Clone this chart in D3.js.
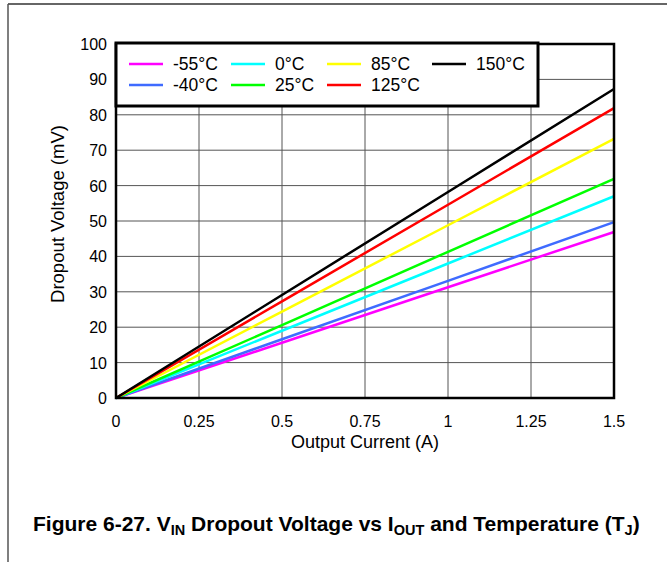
<!DOCTYPE html>
<html>
<head>
<meta charset="utf-8">
<script src="https://cdn.jsdelivr.net/npm/d3@7"></script>
<style>
  body { margin: 0; background: #fff; }
  text { font-family: "Liberation Sans", Arial, sans-serif; }
</style>
</head>
<body>
<script>
// data
var currents = [0, 0.5, 1.0, 1.5];
var seriesNames = ['-55°C', '-40°C', '0°C', '25°C', '85°C', '125°C', '150°C'];
var seriesColors = ['#ff00ff', '#3f6bff', '#00ffff', '#00ff00', '#ffff00', '#ff0000', '#000000'];
var vMinus55 = [0, 15.6, 31.3, 46.9];
var vMinus40 = [0, 16.6, 33.1, 49.7];
var v0 = [0, 19.0, 38.0, 57.0];
var v25 = [0, 20.6, 41.3, 61.9];
var v85 = [0, 24.4, 48.8, 73.2];
var v125 = [0, 27.3, 54.6, 81.9];
var v150 = [0, 29.1, 58.2, 87.3];
var seriesValues = [vMinus55, vMinus40, v0, v25, v85, v125, v150];
var xTicks = [0, 0.25, 0.5, 0.75, 1, 1.25, 1.5];
var xTickLabels = ['0', '0.25', '0.5', '0.75', '1', '1.25', '1.5'];
var yTicks = [0, 10, 20, 30, 40, 50, 60, 70, 80, 90, 100];

var W = 667, H = 562;
var plot = {left: 116, right: 614, top: 44, bottom: 398};

var svg = d3.select('body')
    .append('svg')
    .attr('width', W)
    .attr('height', H);

//page frame
svg.append('line')
    .attr('x1', 8).attr('y1', 4).attr('x2', W).attr('y2', 4)
    .style('stroke', '#333').style('stroke-width', 1.5);
svg.append('line')
    .attr('x1', 8).attr('y1', 4).attr('x2', 8).attr('y2', H)
    .style('stroke', '#555').style('stroke-width', 1.5);

var x = d3.scaleLinear().domain([0, 1.5]).range([plot.left, plot.right]);
var y = d3.scaleLinear().domain([0, 100]).range([plot.bottom, plot.top]);

//grid
svg.append('g')
    .selectAll('line.vg')
    .data(xTicks.slice(1, -1))
    .enter().append('line')
    .attr('x1', function (d) { return x(d); })
    .attr('x2', function (d) { return x(d); })
    .attr('y1', plot.top).attr('y2', plot.bottom)
    .style('stroke', '#555').style('stroke-width', 1);
svg.append('g')
    .selectAll('line.hg')
    .data(yTicks.slice(1, -1))
    .enter().append('line')
    .attr('x1', plot.left).attr('x2', plot.right)
    .attr('y1', function (d) { return y(d); })
    .attr('y2', function (d) { return y(d); })
    .style('stroke', '#555').style('stroke-width', 1);

//tick labels
svg.append('g')
    .selectAll('text')
    .data(yTicks)
    .enter().append('text')
    .attr('x', plot.left - 9)
    .attr('y', function (d) { return y(d) + 6; })
    .attr('text-anchor', 'end')
    .style('font-size', '16px')
    .text(function (d) { return d; });
svg.append('g')
    .selectAll('text')
    .data(xTicks)
    .enter().append('text')
    .attr('x', function (d) { return x(d); })
    .attr('y', plot.bottom + 29)
    .attr('text-anchor', 'middle')
    .style('font-size', '16px')
    .text(function (d, i) { return xTickLabels[i]; });

//axis titles
svg.append('text')
    .attr('x', (plot.left + plot.right) / 2)
    .attr('y', plot.bottom + 50)
    .attr('text-anchor', 'middle')
    .style('font-size', '18px')
    .text('Output Current (A)');
svg.append('text')
    .attr('transform', 'translate(64,214) rotate(-90)')
    .attr('text-anchor', 'middle')
    .style('font-size', '18.5px')
    .text('Dropout Voltage (mV)');

//series lines
var line = d3.line()
    .x(function (d, i) { return x(currents[i]); })
    .y(function (d) { return y(d); });
svg.append('g')
    .selectAll('path')
    .data(seriesValues)
    .enter().append('path')
    .attr('d', line)
    .style('fill', 'none')
    .style('stroke', function (d, i) { return seriesColors[i]; })
    .style('stroke-width', 2.5);

//plot border
svg.append('rect')
    .attr('x', plot.left).attr('y', plot.top)
    .attr('width', plot.right - plot.left)
    .attr('height', plot.bottom - plot.top)
    .style('fill', 'none')
    .style('stroke', '#000').style('stroke-width', 2.5);

//legend
var legend = svg.append('g');
legend.append('rect')
    .attr('x', 116).attr('y', 43)
    .attr('width', 422).attr('height', 63)
    .style('fill', '#fff')
    .style('stroke', '#000').style('stroke-width', 3);
// column order: -55/-40, 0/25, 85/125, 150
var legendCols = [129, 231, 327, 432];
var legendOrder = [[0, 1], [2, 3], [4, 5], [6]];
legendOrder.forEach(function (col, c) {
    col.forEach(function (s, r) {
        var ly = 64 + r * 21;
        legend.append('line')
            .attr('x1', legendCols[c]).attr('x2', legendCols[c] + 34)
            .attr('y1', ly).attr('y2', ly)
            .style('stroke', seriesColors[s]).style('stroke-width', 2.5);
        legend.append('text')
            .attr('x', legendCols[c] + 44)
            .attr('y', ly + 6)
            .style('font-size', '17.5px')
            .text(seriesNames[s]);
    });
});

//figure caption
var cap = svg.append('text')
    .attr('x', 33).attr('y', 531)
    .style('font-size', '21px')
    .style('font-weight', 'bold');
cap.append('tspan').text('Figure 6-27. V');
cap.append('tspan').attr('dy', 4).style('font-size', '14.5px').text('IN');
cap.append('tspan').attr('dy', -4).text(' Dropout Voltage vs I');
cap.append('tspan').attr('dy', 4).style('font-size', '14.5px').text('OUT');
cap.append('tspan').attr('dy', -4).text(' and Temperature (T');
cap.append('tspan').attr('dy', 4).style('font-size', '14.5px').text('J');
cap.append('tspan').attr('dy', -4).text(')');
</script>
</body>
</html>
